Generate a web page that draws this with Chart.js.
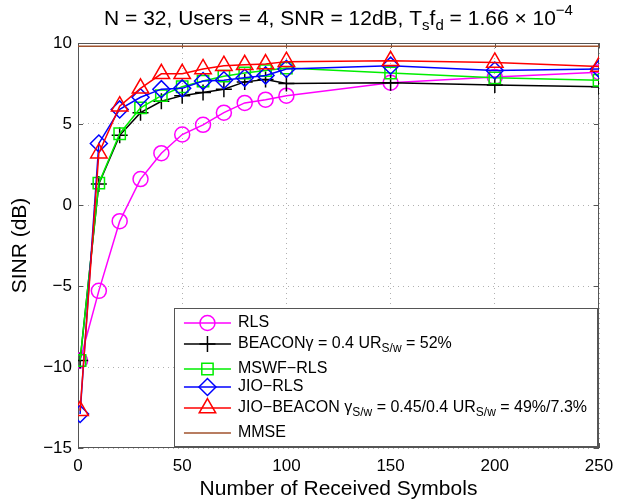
<!DOCTYPE html>
<html>
<head>
<meta charset="utf-8">
<script src="https://cdn.jsdelivr.net/npm/chart.js@4.4.0/dist/chart.umd.min.js"></script>
<style>
  html, body { margin: 0; padding: 0; background: #fff; }
  #wrap { width: 627px; height: 504px; }
</style>
</head>
<body>
<div id="wrap"><canvas id="sinrChart" width="627" height="504"></canvas></div>
<script>
// --- data ---
const symbols = [1, 10, 20, 30, 40, 50, 60, 70, 80, 90, 100, 150, 200, 250];
const rls       = [-9.6, -5.3, -1.0, 1.6, 3.2, 4.35, 4.95, 5.7, 6.3, 6.5, 6.75, 7.55, 7.9, 8.2];
const beacon    = [-9.6, 1.3, 4.3, 5.7, 6.4, 6.75, 6.95, 7.15, 7.6, 7.75, 7.5, 7.55, 7.4, 7.3];
const mswfRls   = [-9.6, 1.35, 4.4, 6.0, 6.75, 7.3, 7.65, 7.95, 8.15, 8.3, 8.45, 8.15, 7.85, 7.7];
const jioRls    = [-12.9, 3.8, 5.9, 6.65, 7.15, 7.2, 7.65, 7.7, 7.85, 8.0, 8.4, 8.6, 8.3, 8.4];
const jioBeacon = [-12.7, 3.2, 6.1, 7.2, 8.1, 8.1, 8.4, 8.6, 8.65, 8.7, 8.85, 8.9, 8.8, 8.55];
const mmseX = [0, 250];
const mmse  = [9.8, 9.8];

const xTicks = [0, 50, 100, 150, 200, 250];
const yTicks = [-15, -10, -5, 0, 5, 10];

// legend labels as rich text: [text, 'sub'|'sup'|undefined]
const legendLabels = [
    [['RLS']],
    [['BEACONγ = 0.4 UR'], ['S/w', 'sub'], [' = 52%']],
    [['MSWF−RLS']],
    [['JIO−RLS']],
    [['JIO−BEACON γ'], ['S/w', 'sub'], [' = 0.45/0.4 UR'], ['S/w', 'sub'], [' = 49%/7.3%']],
    [['MMSE']]
];
const titleText = [['N = 32, Users = 4, SNR = 12dB, T'], ['s', 'sub'], ['f'], ['d', 'sub'], [' = 1.66 × 10'], ['−4', 'sup']];

const FONT = '"Liberation Sans", Arial, Helvetica, sans-serif';

const pts = (xs, ys) => xs.map((x, i) => ({ x: x, y: ys[i] }));

function series(data, color, style, radius, order) {
    return {
        data: data,
        borderColor: color,
        backgroundColor: color,
        borderWidth: 1.5,
        pointStyle: style,
        pointRadius: radius,
        pointBorderColor: color,
        pointBackgroundColor: 'rgba(0,0,0,0)',
        pointBorderWidth: 1.5,
        showLine: true,
        tension: 0,
        order: order
    };
}

// measure / draw text with sub- and superscripts
function richWidth(ctx, parts, size) {
    let w = 0;
    parts.forEach(p => {
        ctx.font = (p[1] ? Math.round(size * 0.72) : size) + 'px ' + FONT;
        w += ctx.measureText(p[0]).width;
    });
    return w;
}
function drawRich(ctx, parts, x, y, size) {
    ctx.textAlign = 'left';
    ctx.textBaseline = 'middle';
    parts.forEach(p => {
        let dy = 0;
        if (p[1] === 'sub') dy = size * 0.32;
        if (p[1] === 'sup') dy = -size * 0.4;
        ctx.font = (p[1] ? Math.round(size * 0.72) : size) + 'px ' + FONT;
        ctx.fillText(p[0], x, y + dy);
        x += ctx.measureText(p[0]).width;
    });
}

const decorPlugin = {
    id: 'decor',
    beforeDatasetsDraw(chart) {
        const ctx = chart.ctx;
        const a = chart.chartArea;
        const xs = chart.scales.x, ys = chart.scales.y;
        ctx.save();
        ctx.strokeStyle = '#555';
        ctx.lineWidth = 1;
        ctx.strokeRect(a.left + 0.5, a.top + 0.5, a.right - a.left - 1, a.bottom - a.top - 1);
        ctx.beginPath();
        xTicks.forEach(v => {
            const px = Math.round(xs.getPixelForValue(v)) + 0.5;
            ctx.moveTo(px, a.bottom); ctx.lineTo(px, a.bottom - 5);
            ctx.moveTo(px, a.top); ctx.lineTo(px, a.top + 5);
        });
        yTicks.forEach(v => {
            const py = Math.round(ys.getPixelForValue(v)) + 0.5;
            ctx.moveTo(a.left, py); ctx.lineTo(a.left + 5, py);
            ctx.moveTo(a.right, py); ctx.lineTo(a.right - 5, py);
        });
        ctx.stroke();
        ctx.restore();
    },
    afterDraw(chart) {
        const ctx = chart.ctx;
        const a = chart.chartArea;
        ctx.save();
        ctx.fillStyle = '#000';

        // title
        const tw = richWidth(ctx, titleText, 21);
        drawRich(ctx, titleText, (a.left + a.right) / 2 - tw / 2, 19, 21);

        // legend box
        const size = 16;
        const hasSub = legendLabels.map(l => l.some(p => p[1] === 'sub'));
        const rowY = [];
        let y = 0;
        legendLabels.forEach((l, i) => {
            if (i > 0) y += 18 + (hasSub[i - 1] ? 7 : 0) + (hasSub[i] ? 3 : 0);
            rowY.push(y);
        });
        const textW = Math.max(...legendLabels.map(l => richWidth(ctx, l, size)));
        const boxW = 10 + 47 + 7 + textW + 10;
        const boxH = 15 + y + 13;
        const bx = a.right - 2 - boxW;
        const by = a.bottom - 2 - boxH;
        ctx.fillStyle = '#fff';
        ctx.fillRect(bx, by, boxW, boxH);
        ctx.strokeStyle = '#555';
        ctx.lineWidth = 1;
        ctx.strokeRect(Math.round(bx) + 0.5, Math.round(by) + 0.5, Math.round(boxW), Math.round(boxH));

        chart.data.datasets.forEach((ds, i) => {
            const cy = by + 15 + rowY[i];
            ctx.strokeStyle = ds.borderColor;
            ctx.lineWidth = ds.borderWidth;
            ctx.beginPath();
            ctx.moveTo(bx + 10, cy);
            ctx.lineTo(bx + 57, cy);
            ctx.stroke();
            if (ds.pointRadius > 0) {
                ctx.fillStyle = 'rgba(0,0,0,0)';
                Chart.helpers.drawPoint(ctx, {
                    pointStyle: ds.pointStyle,
                    radius: ds.pointRadius,
                    rotation: 0,
                    borderWidth: ds.pointBorderWidth
                }, bx + 33.5, cy);
            }
            ctx.fillStyle = '#000';
            drawRich(ctx, legendLabels[i], bx + 64, cy, size);
        });
        ctx.restore();
    }
};

const tickLabel = v => String(v).replace('-', '−');

new Chart(document.getElementById('sinrChart'), {
    type: 'scatter',
    data: {
        datasets: [
            series(pts(symbols, rls), '#ff00ff', 'circle', 7.5, 5),
            series(pts(symbols, beacon), '#000000', 'cross', 8, 4),
            series(pts(symbols, mswfRls), '#00ee00', 'rect', 8, 3),
            series(pts(symbols, jioRls), '#0000ff', 'rectRot', 8.5, 2),
            series(pts(symbols, jioBeacon), '#ff0000', 'triangle', 9.5, 1),
            series(pts(mmseX, mmse), '#a0522d', 'circle', 0, 0)
        ]
    },
    options: {
        responsive: false,
        animation: false,
        devicePixelRatio: 1,
        layout: { padding: { top: 43, right: 28, left: 0, bottom: 0 } },
        plugins: {
            legend: { display: false },
            tooltip: { enabled: false },
            title: { display: false }
        },
        scales: {
            x: {
                type: 'linear',
                min: 0,
                max: 250,
                afterBuildTicks: s => { s.ticks = xTicks.map(v => ({ value: v })); },
                afterFit: s => { s.height = 56; },
                grid: { color: '#b0b0b0', drawTicks: false, lineWidth: 1 },
                border: { display: false, dash: [1, 4] },
                ticks: {
                    color: '#000',
                    padding: 8,
                    maxRotation: 0,
                    font: { family: FONT, size: 17 },
                    callback: tickLabel
                },
                title: {
                    display: true,
                    text: 'Number of Received Symbols',
                    color: '#000',
                    font: { family: FONT, size: 21 },
                    padding: { top: 0, bottom: 2 }
                }
            },
            y: {
                type: 'linear',
                min: -15,
                max: 10,
                afterBuildTicks: s => { s.ticks = yTicks.map(v => ({ value: v })); },
                afterFit: s => { s.width = 78; },
                grid: { color: '#b0b0b0', drawTicks: false, lineWidth: 1 },
                border: { display: false, dash: [1, 4] },
                ticks: {
                    color: '#000',
                    padding: 6,
                    font: { family: FONT, size: 17 },
                    callback: tickLabel
                },
                title: {
                    display: true,
                    text: 'SINR (dB)',
                    color: '#000',
                    font: { family: FONT, size: 21 },
                    padding: { top: 8, bottom: 0 }
                }
            }
        }
    },
    plugins: [decorPlugin]
});
</script>
</body>
</html>
